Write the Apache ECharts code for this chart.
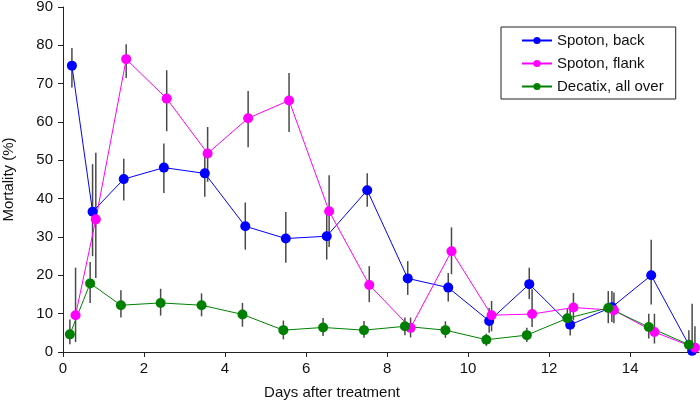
<!DOCTYPE html>
<html>
<head>
<meta charset="utf-8">
<script src="https://cdn.jsdelivr.net/npm/echarts@6/dist/echarts.min.js"></script>
<style>html,body{margin:0;padding:0;background:#fff}#c{width:700px;height:403px}</style>
</head>
<body>
<div id="c"></div>
<script>
const seriesNames = ['Spoton, back', 'Spoton, flank', 'Decatix, all over'];
const xTicks = [0, 2, 4, 6, 8, 10, 12, 14];

const backDays = [0.22, 0.73, 1.50, 2.49, 3.50, 4.50, 5.50, 6.51, 7.51, 8.51, 9.51, 10.52, 11.51, 12.52, 13.55, 14.52, 15.53];
const backVal  = [74.7, 36.6, 45.1, 48.1, 46.6, 32.8, 29.6, 30.2, 42.2, 19.2, 16.8, 8.1, 17.7, 7.1, 11.7, 20.0, 0.3];
const backLow  = [69.0, 25.0, 39.5, 41.5, 40.5, 26.7, 23.3, 24.1, 37.9, 14.9, 13.2, 5.0, 13.8, 4.3, 7.8, 12.4, 0];
const backHigh = [79.3, 49.0, 50.4, 54.4, 51.7, 39.0, 36.5, 36.3, 46.6, 23.7, 20.6, 11.5, 22.0, 11.5, 15.9, 29.3, 12.6];

const flankDays = [0.31, 0.81, 1.56, 2.56, 3.57, 4.57, 5.58, 6.57, 7.56, 8.58, 9.59, 10.58, 11.58, 12.60, 13.60, 14.60, 15.60];
const flankVal  = [9.6, 34.6, 76.4, 66.1, 51.8, 61.0, 65.6, 36.7, 17.5, 6.3, 26.3, 9.6, 9.9, 11.6, 10.9, 5.2, 1.1];
const flankLow  = [2.6, 19.3, 71.5, 57.6, 44.4, 53.4, 57.4, 27.4, 13.0, 3.8, 20.3, 5.4, 6.5, 8.3, 7.5, 2.2, 0];
const flankHigh = [22.0, 52.0, 80.3, 73.5, 58.7, 68.1, 72.8, 46.1, 22.4, 9.0, 32.5, 13.3, 16.4, 15.4, 15.5, 10.0, 6.7];

const decDays = [0.17, 0.67, 1.43, 2.41, 3.42, 4.43, 5.44, 6.42, 7.43, 8.44, 9.44, 10.45, 11.45, 12.45, 13.46, 14.46, 15.45];
const decVal  = [4.6, 17.9, 12.2, 12.8, 12.2, 9.8, 5.7, 6.4, 5.7, 6.7, 5.7, 3.2, 4.4, 8.8, 11.5, 6.5, 1.9];
const decLow  = [2.0, 12.8, 9.0, 9.5, 9.3, 6.6, 3.3, 4.2, 3.7, 4.4, 3.7, 1.6, 2.6, 6.1, 7.5, 3.5, 0];
const decHigh = [8.5, 23.5, 16.1, 16.5, 15.3, 12.8, 8.2, 8.9, 8.1, 9.0, 8.0, 4.8, 6.3, 11.2, 15.9, 10.0, 5.7];

const colors = ['#0000ff', '#ff00ff', '#008000'];
const groups = [
  [backDays, backVal, backLow, backHigh],
  [flankDays, flankVal, flankLow, flankHigh],
  [decDays, decVal, decLow, decHigh]
];

const series = [];
groups.forEach((g, i) => {
  series.push({
    type: 'custom',
    name: seriesNames[i] + ' err',
    z: 1,
    silent: true,
    data: g[0].map((d, k) => [d, g[2][k], g[3][k]]),
    encode: { x: 0, y: [1, 2] },
    renderItem: function (params, api) {
      const lo = api.coord([api.value(0), api.value(1)]);
      const hi = api.coord([api.value(0), api.value(2)]);
      return {
        type: 'line',
        shape: { x1: lo[0], y1: lo[1], x2: hi[0], y2: hi[1] },
        style: { stroke: '#4a4a4a', lineWidth: 1.5 }
      };
    }
  });
});
groups.forEach((g, i) => {
  series.push({
    type: 'line',
    name: seriesNames[i],
    z: 3,
    data: g[0].map((d, k) => [d, g[1][k]]),
    symbol: 'circle',
    symbolSize: 10,
    showSymbol: true,
    lineStyle: { color: colors[i], width: 1 },
    itemStyle: { color: colors[i] },
    emphasis: { disabled: true },
    animation: false
  });
});

const chart = echarts.init(document.getElementById('c'));
chart.setOption({
  animation: false,
  textStyle: { fontFamily: 'Liberation Sans, Arial, sans-serif' },
  grid: { left: 63, right: 1, top: 7, bottom: 51, containLabel: false, outerBoundsMode: 'none' },
  legend: {
    data: seriesNames,
    left: 501, top: 27,
    orient: 'vertical',
    backgroundColor: '#fff',
    borderColor: '#222',
    borderWidth: 1,
    borderRadius: 0,
    padding: [6, 12, 5, 20],
    itemWidth: 30,
    itemHeight: 9,
    itemGap: 8,
    textStyle: { fontSize: 15, color: '#111', fontFamily: 'Liberation Sans, Arial, sans-serif' }
  },
  xAxis: {
    type: 'value',
    min: 0, max: 15.7, interval: 2,
    name: 'Days after treatment',
    nameLocation: 'middle',
    nameGap: 33,
    nameTextStyle: { fontSize: 15, color: '#111', padding: [0, 98, 0, 0] },
    axisLine: { lineStyle: { color: '#222', width: 1 } },
    axisTick: { show: true, length: 5, lineStyle: { color: '#222' } },
    axisLabel: { fontSize: 15, color: '#111', margin: 9, showMaxLabel: false },
    splitLine: { show: false }
  },
  yAxis: {
    type: 'value',
    min: 0, max: 90, interval: 10,
    name: 'Mortality (%)',
    nameLocation: 'middle',
    nameGap: 47,
    nameTextStyle: { fontSize: 15, color: '#111' },
    axisLine: { show: true, lineStyle: { color: '#222', width: 1 } },
    axisTick: { show: true, length: 5, lineStyle: { color: '#222' } },
    axisLabel: { fontSize: 15, color: '#111', margin: 10 },
    splitLine: { show: false }
  },
  series: series
});
</script>
</body>
</html>
